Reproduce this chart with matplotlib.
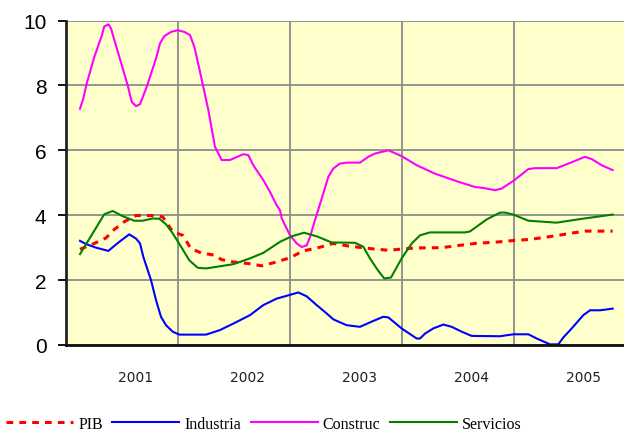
import matplotlib

matplotlib.use("Agg")
import matplotlib.pyplot as plt

# ==============================================================================
# DATOS (eje X en años decimales)
# ==============================================================================
anio_pib = [
    2001.125, 2001.253, 2001.357, 2001.431, 2001.521, 2001.625, 2001.774,
    2001.863, 2001.953, 2002.042, 2002.116, 2002.205, 2002.321, 2002.390,
    2002.494, 2002.628, 2002.747, 2002.881, 2003.000, 2003.119, 2003.253,
    2003.387, 2003.521, 2003.744, 2003.878, 2004.116, 2004.354, 2004.652,
    2004.741, 2004.875, 2004.994, 2005.128, 2005.262, 2005.396, 2005.500,
    2005.634, 2005.881,
]
pib = [
    2.95, 3.13, 3.30, 3.56, 3.80, 3.99, 3.99,
    3.95, 3.49, 3.38, 2.97, 2.84, 2.77, 2.63,
    2.56, 2.51, 2.44, 2.56, 2.69, 2.90, 3.00,
    3.13, 3.05, 2.96, 2.92, 2.99, 3.00, 3.13,
    3.15, 3.18, 3.22, 3.25, 3.31, 3.38, 3.44,
    3.51, 3.51,
]

anio_ind = [
    2001.125, 2001.179, 2001.268, 2001.378, 2001.476, 2001.565, 2001.625,
    2001.661, 2001.690, 2001.759, 2001.804, 2001.848, 2001.893, 2001.953,
    2002.012, 2002.250, 2002.375, 2002.494, 2002.643, 2002.762, 2002.881,
    2002.985, 2003.074, 2003.149, 2003.238, 2003.328, 2003.387, 2003.506,
    2003.625, 2003.729, 2003.833, 2003.878, 2003.997, 2004.131, 2004.161,
    2004.205, 2004.279, 2004.369, 2004.444, 2004.533, 2004.622, 2004.875,
    2004.994, 2005.128, 2005.203, 2005.321, 2005.396, 2005.440, 2005.515,
    2005.619, 2005.679, 2005.768, 2005.881,
]
industria = [
    3.21, 3.11, 3.00, 2.90, 3.18, 3.41, 3.28,
    3.13, 2.72, 2.00, 1.38, 0.87, 0.61, 0.41,
    0.32, 0.32, 0.46, 0.66, 0.92, 1.23, 1.43,
    1.53, 1.62, 1.50, 1.23, 0.97, 0.79, 0.61,
    0.56, 0.72, 0.87, 0.85, 0.51, 0.20, 0.20,
    0.35, 0.51, 0.63, 0.56, 0.41, 0.28, 0.27,
    0.33, 0.33, 0.20, 0.02, 0.02, 0.23, 0.51,
    0.92, 1.07, 1.07, 1.12,
]

anio_con = [
    2001.125, 2001.154, 2001.185, 2001.253, 2001.321, 2001.342, 2001.381,
    2001.402, 2001.476, 2001.551, 2001.587, 2001.625, 2001.661, 2001.721,
    2001.804, 2001.839, 2001.878, 2001.938, 2001.997, 2002.056, 2002.107,
    2002.146, 2002.190, 2002.271, 2002.330, 2002.390, 2002.464, 2002.583,
    2002.628, 2002.672, 2002.762, 2002.821, 2002.881, 2002.911, 2002.926,
    2003.000, 2003.060, 2003.104, 2003.149, 2003.179, 2003.223, 2003.283,
    2003.342, 2003.387, 2003.446, 2003.506, 2003.625, 2003.699, 2003.759,
    2003.878, 2003.997, 2004.131, 2004.295, 2004.503, 2004.652, 2004.726,
    2004.830, 2004.890, 2005.003, 2005.128, 2005.188, 2005.381, 2005.500,
    2005.634, 2005.694, 2005.783, 2005.881,
]
construc = [
    7.28, 7.59, 8.06, 8.88, 9.55, 9.82, 9.88,
    9.75, 8.88, 8.00, 7.49, 7.36, 7.42, 7.96,
    8.83, 9.29, 9.52, 9.65, 9.70, 9.65, 9.55,
    9.19, 8.52, 7.24, 6.11, 5.70, 5.70, 5.88,
    5.85, 5.54, 5.08, 4.72, 4.31, 4.15, 3.90,
    3.38, 3.13, 3.02, 3.07, 3.33, 3.85, 4.51,
    5.18, 5.44, 5.59, 5.62, 5.62, 5.80, 5.90,
    6.00, 5.82, 5.54, 5.28, 5.03, 4.87, 4.84,
    4.77, 4.82, 5.08, 5.42, 5.45, 5.45, 5.61,
    5.80, 5.73, 5.54, 5.39,
]

anio_ser = [
    2001.125, 2001.238, 2001.342, 2001.417, 2001.506, 2001.610, 2001.685,
    2001.774, 2001.833, 2001.893, 2001.953, 2002.027, 2002.101, 2002.176,
    2002.250, 2002.346, 2002.494, 2002.643, 2002.762, 2002.911, 2003.015,
    2003.125, 2003.238, 2003.372, 2003.580, 2003.654, 2003.714, 2003.783,
    2003.842, 2003.902, 2003.997, 2004.087, 2004.161, 2004.250, 2004.563,
    2004.607, 2004.652, 2004.756, 2004.875, 2004.920, 2004.994, 2005.128,
    2005.381, 2005.589, 2005.881,
]
servicios = [
    2.80, 3.44, 4.03, 4.13, 3.97, 3.83, 3.83,
    3.90, 3.89, 3.72, 3.44, 3.03, 2.61, 2.38,
    2.36, 2.41, 2.49, 2.67, 2.84, 3.18, 3.35,
    3.46, 3.35, 3.16, 3.15, 3.03, 2.67, 2.31,
    2.05, 2.08, 2.67, 3.13, 3.38, 3.47, 3.47,
    3.50, 3.61, 3.87, 4.08, 4.08, 4.02, 3.83,
    3.77, 3.88, 4.02,
]

etiquetas_anios = ["2001", "2002", "2003", "2004", "2005"]


# ==============================================================================
# GRÁFICO
# ==============================================================================
def dibujar():
    fig = plt.figure(figsize=(6.24, 4.35), dpi=100)
    # el área de trazado se sale un poco por la derecha, como en el original
    ax = fig.add_axes([66 / 624, 89 / 435, 560 / 624, 324.5 / 435])
    ax.set_facecolor("#FFFFCC")

    ax.plot(anio_pib, pib, color="red", linewidth=2.2,
            linestyle=(0, (2.2, 2.0)), label="PIB")
    ax.plot(anio_ind, industria, color="blue", linewidth=1.5, label="Industria")
    ax.plot(anio_con, construc, color="#FF00FF", linewidth=1.5, label="Construc")
    ax.plot(anio_ser, servicios, color="#008000", linewidth=1.5, label="Servicios")

    # ejes
    ax.set_xlim(2001, 2006)
    ax.set_ylim(0, 10)
    ax.set_yticks(range(0, 11, 2))
    ax.set_xticks([2001.625 + i for i in range(5)])
    ax.set_xticklabels(etiquetas_anios, fontsize=10, family="DejaVu Sans",
                       color="#222222")
    ax.set_xticks([2002, 2003, 2004, 2005], minor=True)
    ax.tick_params(axis="x", which="both", length=0, pad=18)
    ax.tick_params(axis="y", length=6, width=1.3, direction="out", pad=8,
                   labelsize=15)
    for lab in ax.get_yticklabels():
        lab.set_family("Liberation Sans")

    ax.grid(axis="y", which="major", color="#8C8C8C", linewidth=1.3)
    ax.grid(axis="x", which="minor", color="#8C8C8C", linewidth=1.3)
    ax.set_axisbelow(True)

    ax.spines["top"].set_visible(False)
    ax.spines["right"].set_visible(False)
    ax.spines["left"].set_linewidth(2)
    ax.spines["left"].set_color("#222222")
    ax.spines["bottom"].set_linewidth(2)
    ax.spines["bottom"].set_color("#111111")

    # leyenda abajo
    fig.legend(
        loc="center left",
        bbox_to_anchor=(0.005, 0.024),
        ncol=4,
        frameon=False,
        prop={"family": "Liberation Serif", "size": 11.5},
        handlelength=4.2,
        handletextpad=0.3,
        columnspacing=0.6,
        borderpad=0.2,
        borderaxespad=0,
    )

    fig.savefig("out.png", dpi=100)


if __name__ == "__main__":
    dibujar()
